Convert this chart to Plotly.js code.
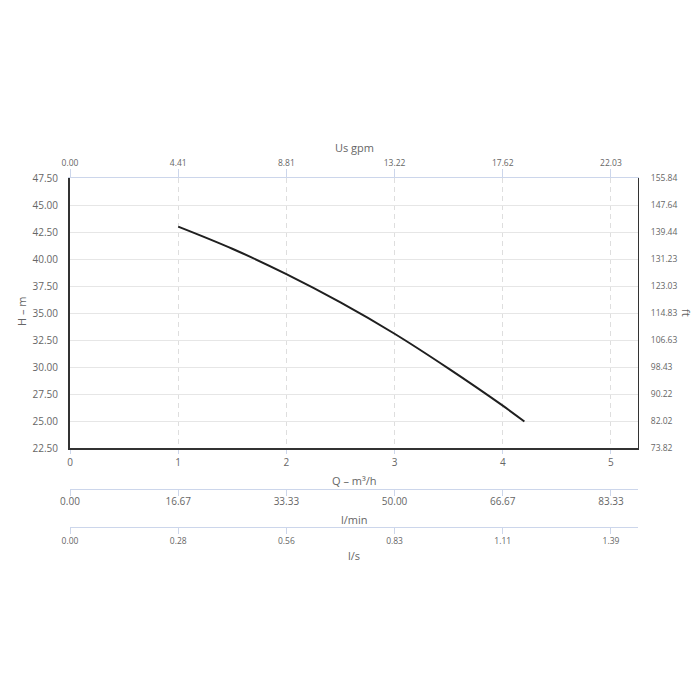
<!DOCTYPE html>
<html>
<head>
<meta charset="utf-8">
<script src="https://cdn.plot.ly/plotly-3.0.1.min.js"></script>
<style>html,body{margin:0;padding:0;background:#fff;}#chart{width:700px;height:700px;}</style>
</head>
<body>
<div id="chart"></div>
<script>
// Pump curve: flow Q (m³/h) vs head H (m)
const flowQ = [1.0, 1.5, 2.0, 2.5, 3.0, 3.5, 4.0, 4.2];
const headH = [43.0, 40.95, 38.6, 35.98, 33.08, 29.85, 26.42, 24.95];

// Tick positions (m³/h) and labels of the linked unit axes
const qTicks = [0, 1, 2, 3, 4, 5];
const qLabels = ["0", "1", "2", "3", "4", "5"];
const gpmLabels = ["0.00", "4.41", "8.81", "13.22", "17.62", "22.03"];
const lminLabels = ["0.00", "16.67", "33.33", "50.00", "66.67", "83.33"];
const lsLabels = ["0.00", "0.28", "0.56", "0.83", "1.11", "1.39"];

// Head ticks (m) and matching feet labels
const hTicks = [22.5, 25, 27.5, 30, 32.5, 35, 37.5, 40, 42.5, 45, 47.5];
const hLabels = ["22.50", "25.00", "27.50", "30.00", "32.50", "35.00", "37.50", "40.00", "42.50", "45.00", "47.50"];
const ftLabels = ["73.82", "82.02", "90.22", "98.43", "106.63", "114.83", "123.03", "131.23", "139.44", "147.64", "155.84"];

const xRange = [0, 5.25];
const yRange = [22.5, 47.5];

const FONT = "Open Sans, Noto Sans, sans-serif";
const GREY = "#666666";
const AXBLUE = "#ccd6eb";

const curve = {
  x: flowQ, y: headH, xaxis: "x", yaxis: "y",
  type: "scatter", mode: "lines",
  line: {color: "#1f1f1f", width: 2, shape: "spline", smoothing: 1},
  hoverinfo: "x+y", showlegend: false
};
function ghost(xa, ya) {
  return {x: flowQ, y: headH, xaxis: xa, yaxis: ya, type: "scatter", mode: "lines",
    line: {color: "rgba(0,0,0,0)", width: 0}, hoverinfo: "skip", showlegend: false};
}

const tickFont = (s) => ({family: FONT, size: s, color: GREY});
const titleFont = {family: FONT, size: 11, color: GREY};

const PH = 349; // paper height in px (t=178, b=173)
const pyB = (px) => (527 - px) / PH; // px -> paper y
const pxX = (px) => (px - 70) / 568; // px -> paper x

const layout = {
  width: 700, height: 700,
  margin: {l: 70, r: 62, t: 178, b: 173, pad: 0},
  paper_bgcolor: "#ffffff", plot_bgcolor: "#ffffff",
  showlegend: false,
  xaxis: {
    domain: [0, 1], anchor: "y", range: xRange, side: "bottom",
    tickmode: "array", tickvals: qTicks, ticktext: qLabels,
    tickfont: tickFont(10), ticks: "outside", ticklen: 4, tickcolor: AXBLUE,
    showline: true, linecolor: "#333333", linewidth: 1.5,
    showgrid: true, gridcolor: "#dedede", griddash: "5px,4px", gridwidth: 1,
    zeroline: false, fixedrange: true
  },
  xaxis2: {
    overlaying: "x", anchor: "y", side: "top", range: xRange,
    tickmode: "array", tickvals: qTicks, ticktext: gpmLabels,
    tickfont: tickFont(8.5), ticks: "outside", ticklen: 8, tickcolor: AXBLUE,
    showline: true, linecolor: AXBLUE, linewidth: 1,
    showgrid: false, zeroline: false, fixedrange: true
  },
  xaxis3: {
    overlaying: "x", anchor: "free", position: pyB(488.5), side: "bottom", range: xRange,
    tickmode: "array", tickvals: qTicks, ticktext: lminLabels,
    tickfont: tickFont(10), ticks: "outside", ticklen: 6, tickcolor: AXBLUE,
    ticklabelstandoff: -3,
    showline: true, linecolor: AXBLUE, linewidth: 1,
    showgrid: false, zeroline: false, fixedrange: true
  },
  xaxis4: {
    overlaying: "x", anchor: "free", position: 0, side: "bottom", range: xRange,
    tickmode: "array", tickvals: qTicks, ticktext: lsLabels,
    tickfont: tickFont(8.5), ticks: "outside", ticklen: 6, tickcolor: AXBLUE,
    showline: true, linecolor: AXBLUE, linewidth: 1,
    showgrid: false, zeroline: false, fixedrange: true
  },
  yaxis: {
    domain: [pyB(448), 1], anchor: "x", range: yRange, side: "left",
    tickmode: "array", tickvals: hTicks, ticktext: hLabels,
    tickfont: tickFont(10), ticks: "outside", ticklen: 8, tickcolor: "rgba(0,0,0,0)",
    showline: true, linecolor: "#333333", linewidth: 2,
    showgrid: true, gridcolor: "#e6e6e6", gridwidth: 1,
    zeroline: false, fixedrange: true
  },
  yaxis2: {
    overlaying: "y", anchor: "x", side: "right", range: yRange,
    tickmode: "array", tickvals: hTicks, ticktext: ftLabels,
    tickfont: tickFont(8.5), ticks: "outside", ticklen: 10, tickcolor: "rgba(0,0,0,0)",
    showline: true, linecolor: "#333333", linewidth: 1.2,
    showgrid: false, zeroline: false, fixedrange: true
  },
  annotations: [
    {text: "Us gpm", xref: "paper", yref: "paper", x: 0.5, y: pyB(147), showarrow: false, font: titleFont, xanchor: "center", yanchor: "middle"},
    {text: "Q – m³/h", xref: "paper", yref: "paper", x: 0.5, y: pyB(480), showarrow: false, font: titleFont, xanchor: "center", yanchor: "middle"},
    {text: "l/min", xref: "paper", yref: "paper", x: 0.5, y: pyB(519), showarrow: false, font: titleFont, xanchor: "center", yanchor: "middle"},
    {text: "l/s", xref: "paper", yref: "paper", x: 0.5, y: pyB(555), showarrow: false, font: titleFont, xanchor: "center", yanchor: "middle"},
    {text: "H – m", xref: "paper", yref: "paper", x: pxX(21), y: pyB(311), showarrow: false, font: titleFont, textangle: -90, xanchor: "center", yanchor: "middle"},
    {text: "ft", xref: "paper", yref: "paper", x: pxX(687), y: pyB(313), showarrow: false, font: titleFont, textangle: 90, xanchor: "center", yanchor: "middle"}
  ]
};

Plotly.newPlot("chart", [curve, ghost("x2", "y"), ghost("x3", "y"), ghost("x4", "y"), ghost("x", "y2")], layout, {displayModeBar: false});
</script>
</body>
</html>
